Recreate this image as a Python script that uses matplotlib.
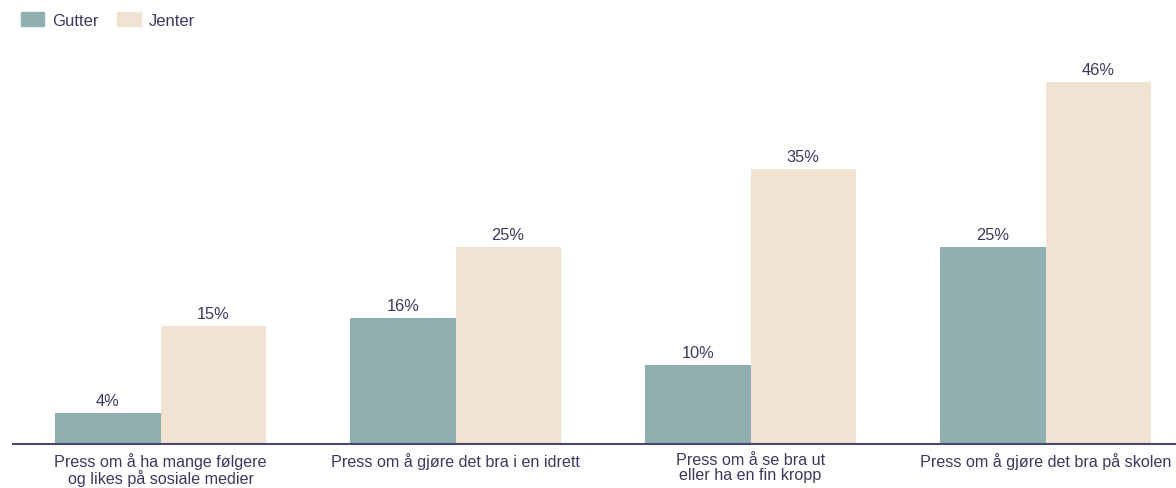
import numpy as np
import matplotlib.pyplot as plt
from matplotlib.patches import Patch

categories = [
    "Press om å ha mange følgere\nog likes på sosiale medier",
    "Press om å gjøre det bra i en idrett",
    "Press om å se bra ut\neller ha en fin kropp",
    "Press om å gjøre det bra på skolen",
]
gutter = [4, 16, 10, 25]
jenter = [15, 25, 35, 46]

TEAL = "#8fafb0"
BEIGE = "#f1e3d2"
NAVY = "#3b395e"

plt.rcParams["font.family"] = ["Liberation Sans", "DejaVu Sans"]

fig = plt.figure(figsize=(11.76, 4.89), dpi=100)
ax = fig.add_axes([13 / 1176, 44 / 489, 1 - 13 / 1176, 395 / 489])

x = np.arange(len(categories))
w = 0.356
b1 = ax.bar(x - w / 2, gutter, w, color=TEAL)
b2 = ax.bar(x + w / 2, jenter, w, color=BEIGE)

for bars, vals in ((b1, gutter), (b2, jenter)):
    for bar, v in zip(bars, vals):
        ax.annotate(f"{v}%", (bar.get_x() + bar.get_width() / 2, v),
                    xytext=(0, 3.5), textcoords="offset points",
                    ha="center", va="bottom", fontsize=11.8, color=NAVY)

ax.set_xlim(-0.5, -0.5 + 1163 / 295)
ax.set_ylim(0, 395 / 7.87)
ax.set_xticks(x)
ax.set_xticklabels(categories, fontsize=11.6, color=NAVY, linespacing=1.0)
ax.tick_params(axis="x", length=0, pad=6)
ax.set_yticks([])
for s in ("top", "right", "left"):
    ax.spines[s].set_visible(False)
ax.spines["bottom"].set_color("#4a4870")
ax.spines["bottom"].set_linewidth(1.5)

handles = [Patch(color=TEAL, label="Gutter"), Patch(color=BEIGE, label="Jenter")]
fig.legend(handles=handles, loc="upper left", bbox_to_anchor=(0.005, 1.005),
           ncol=2, frameon=False, fontsize=12, labelcolor=NAVY,
           handlelength=1.4, handleheight=1.0, handletextpad=0.5,
           columnspacing=1.1)

fig.savefig("out.png", dpi=100)
